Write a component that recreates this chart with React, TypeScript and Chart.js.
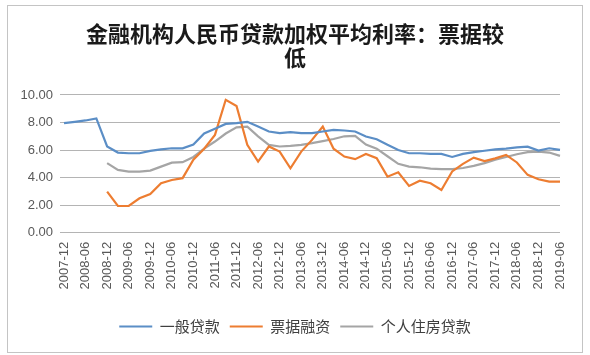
import React, { useEffect, useRef } from "react";
import { Chart, registerables } from "chart.js";

Chart.register(...registerables);

const titleLines = ["金融机构人民币贷款加权平均利率：票据较", "低"];

const categories = [
  "2007-12",
  "2008-03", "2008-06", "2008-09", "2008-12",
  "2009-03", "2009-06", "2009-09", "2009-12",
  "2010-03", "2010-06", "2010-09", "2010-12",
  "2011-03", "2011-06", "2011-09", "2011-12",
  "2012-03", "2012-06", "2012-09", "2012-12",
  "2013-03", "2013-06", "2013-09", "2013-12",
  "2014-03", "2014-06", "2014-09", "2014-12",
  "2015-03", "2015-06", "2015-09", "2015-12",
  "2016-03", "2016-06", "2016-09", "2016-12",
  "2017-03", "2017-06", "2017-09", "2017-12",
  "2018-03", "2018-06", "2018-09", "2018-12",
  "2019-03", "2019-06",
];

const seriesNames = ["一般贷款", "票据融资", "个人住房贷款"];

const generalLoans = [
  7.95, 8.05, 8.15, 8.30, 6.26, 5.82, 5.77, 5.77, 5.94, 6.05, 6.13, 6.13,
  6.40, 7.20, 7.55, 7.90, 7.95, 8.05, 7.71, 7.35, 7.23, 7.30, 7.23, 7.23,
  7.35, 7.47, 7.42, 7.35, 6.98, 6.79, 6.38, 6.01, 5.77, 5.77, 5.72, 5.72,
  5.50, 5.72, 5.85, 5.95, 6.05, 6.10, 6.20, 6.25, 5.96, 6.13, 6.01,
];

const billFinancing = [
  null, null, null, null,
  2.98, 1.94, 1.94, 2.50, 2.81, 3.59, 3.83, 3.96, 5.30, 6.10, 7.10, 9.65,
  9.20, 6.38, 5.16, 6.26, 5.89, 4.68, 5.89, 6.74, 7.71, 6.10, 5.53, 5.34,
  5.72, 5.41, 4.07, 4.39, 3.40, 3.78, 3.59, 3.10, 4.45, 5.00, 5.45, 5.20,
  5.40, 5.65, 5.10, 4.20, 3.88, 3.71, 3.71,
];

const mortgageLoans = [
  null, null, null, null,
  5.05, 4.56, 4.44, 4.44, 4.51, 4.80, 5.09, 5.12, 5.50, 6.10, 6.62, 7.20,
  7.65, 7.70, 7.00, 6.38, 6.26, 6.30, 6.38, 6.50, 6.65, 6.80, 7.00, 7.03,
  6.40, 6.10, 5.55, 5.00, 4.80, 4.75, 4.65, 4.61, 4.61, 4.70, 4.85, 5.05,
  5.30, 5.50, 5.70, 5.85, 5.89, 5.82, 5.58,
];

const yMin = 0;
const yMax = 10;
const yStep = 2;

const colors = ["#5b8ec6", "#ed7d31", "#a5a5a5"];

const latin = "'Liberation Sans', Arial, sans-serif";
const cjk = "'Noto Sans CJK SC', 'Liberation Sans', sans-serif";

export default function App() {
  const ref = useRef<HTMLCanvasElement>(null);

  useEffect(() => {
    if (!ref.current) return;
    const mk = (label: string, data: (number | null)[], color: string) => ({
      label,
      data,
      borderColor: color,
      backgroundColor: color,
      borderWidth: 2.2,
      pointRadius: 0,
      pointHoverRadius: 0,
      tension: 0,
      fill: false,
      spanGaps: false,
    });
    const chart = new Chart(ref.current, {
      type: "line",
      data: {
        labels: categories,
        datasets: [
          mk(seriesNames[0], generalLoans, colors[0]),
          mk(seriesNames[1], billFinancing, colors[1]),
          mk(seriesNames[2], mortgageLoans, colors[2]),
        ],
      },
      options: {
        responsive: false,
        animation: false,
        devicePixelRatio: 1,
        layout: { padding: { left: 0, right: 0, top: 0, bottom: 11 } },
        plugins: {
          title: {
            display: true,
            text: titleLines,
            color: "#1a1a1a",
            font: { family: cjk, size: 22, weight: "bold", lineHeight: 1.12 },
            padding: { top: 21, bottom: 24.7 },
          },
          legend: {
            position: "bottom",
            labels: {
              usePointStyle: true,
              pointStyle: "line",
              pointStyleWidth: 33,
              color: "#404040",
              font: { family: cjk, size: 15 },
              padding: 10,
            },
          },
          tooltip: { enabled: false },
        },
        scales: {
          x: {
            grid: { display: false, drawTicks: false },
            border: { display: false },
            ticks: {
              autoSkip: false,
              minRotation: 90,
              maxRotation: 90,
              padding: 9,
              color: "#595959",
              font: { family: latin, size: 13 },
              callback: (_v: any, i: number) => (i % 2 === 0 ? categories[i] : ""),
            },
            afterFit: (s: any) => {
              s.height = 76.3;
            },
          },
          y: {
            min: yMin,
            max: yMax,
            ticks: {
              stepSize: yStep,
              padding: 7,
              color: "#595959",
              font: { family: latin, size: 13 },
              callback: (v: any) => Number(v).toFixed(2),
            },
            grid: { color: "#b4b4b4", tickLength: 4, lineWidth: 1 },
            border: { display: false },
            afterFit: (s: any) => {
              s.width = 64;
            },
          },
          y2: {
            position: "right",
            display: true,
            grid: { display: false, drawTicks: false },
            border: { display: false },
            ticks: { display: false },
            afterFit: (s: any) => {
              s.width = 30;
            },
          },
        },
      } as any,
    });
    return () => chart.destroy();
  }, []);

  return (
    <div style={{ position: "absolute", left: 0, top: 0, width: 590, height: 355, background: "#fff" }}>
      <canvas ref={ref} width={590} height={355} style={{ position: "absolute", left: 0, top: 0 }} />
      <div
        style={{
          position: "absolute",
          left: 7,
          top: 5,
          width: 576,
          height: 348,
          boxSizing: "border-box",
          border: "1px solid #c4c4c4",
          pointerEvents: "none",
        }}
      />
    </div>
  );
}
